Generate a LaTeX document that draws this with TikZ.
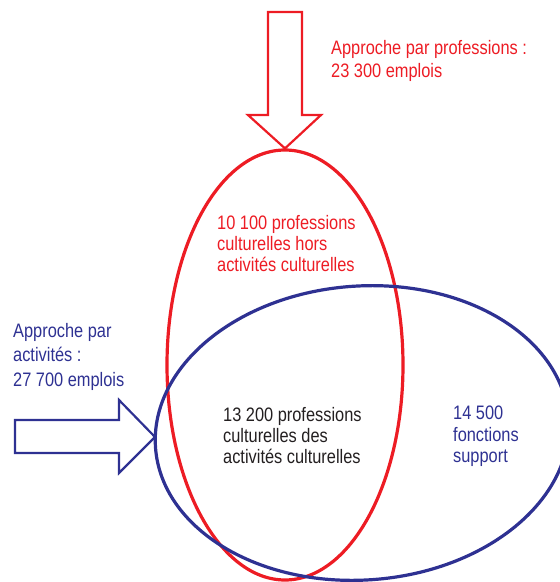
\documentclass[tikz,border=0pt]{standalone}
\usepackage{fontspec}
\setmainfont{Liberation Sans}[FakeStretch=0.84]
\usetikzlibrary{shapes.geometric}
\definecolor{profred}{HTML}{ED1C24}
\definecolor{actblue}{HTML}{2E3192}
\definecolor{txtblack}{HTML}{231F20}

\begin{document}
\begin{tikzpicture}[x=1pt,y=1pt,
    zone/.style={ellipse,draw,line width=3.2pt,inner sep=0pt},
    bigarrow/.style={line width=2.2pt,line join=miter},
    lbl/.style={anchor=north west,inner sep=0pt,align=left}]
  \useasboundingbox (0,0) rectangle (560,-582);
  \node[zone,draw=profred,minimum width=236,minimum height=430] (prof) at (285,-365) {};
  \node[zone,draw=actblue,minimum width=414,minimum height=294,rotate=4] (act) at (362,-433) {};
  \coordinate (acttip) at (155,-437);
  \draw[bigarrow,profred] (268,-12) -- (302,-12) -- (302,-115) -- (321,-115) -- (prof.north)
    -- (248,-115) -- (268,-115) -- cycle;
  \draw[bigarrow,actblue] (15,-420) -- (119,-420) -- (119,-400) -- (acttip)
    -- (119,-473) -- (119,-453) -- (15,-453) -- cycle;
  \node[lbl,text=profred,font=\fontsize{19.5}{23}\selectfont] (proftxt) at (331,-40)
    {Approche par professions :\\23 300 emplois};
  \node[lbl,text=profred,font=\fontsize{19.5}{21}\selectfont] (hors) at (217,-215)
    {10 100 professions\\culturelles hors\\activités culturelles};
  \node[lbl,text=actblue,font=\fontsize{19.5}{24.5}\selectfont] (acttxt) at (13,-323)
    {Approche par\\activités :\\27 700 emplois};
  \node[lbl,text=txtblack,font=\fontsize{19.5}{21}\selectfont] (both) at (223,-407)
    {13 200 professions\\culturelles des\\activités culturelles};
  \node[lbl,text=actblue,font=\fontsize{19.5}{21.5}\selectfont] (support) at (453,-406)
    {14 500\\fonctions\\support};
\end{tikzpicture}
\end{document}
